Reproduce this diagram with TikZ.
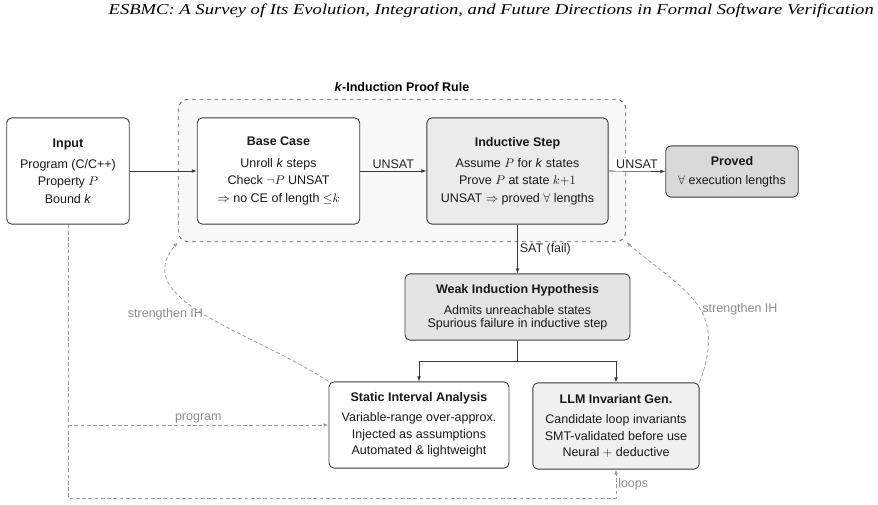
\documentclass[tikz,border=0pt]{standalone}
\usepackage{amsmath,amssymb}
\usepackage{graphicx}
\usepackage[no-math]{fontspec}
\setmainfont{Liberation Sans}
\newfontfamily\headfont{Liberation Serif}
\usepackage{tikz}
\usetikzlibrary{arrows.meta, positioning}

\definecolor{edgegray}{HTML}{3A3A3A}
\definecolor{feedgray}{HTML}{9A9A9A}
\definecolor{labelgray}{HTML}{8C8C8C}
\definecolor{groupfill}{HTML}{F8F8F8}
\definecolor{stepfill}{HTML}{EBEBEB}
\definecolor{weakfill}{HTML}{E4E4E4}
\definecolor{llmfill}{HTML}{F0F0F0}
\definecolor{provedfill}{HTML}{D9D9D9}

\begin{document}
\begin{tikzpicture}[x=0.8pt, y=-0.8pt,
    box/.style={draw=edgegray, line width=0.7pt, rounded corners=4pt, align=center,
        font=\fontsize{10}{12}\selectfont, text=black!90, inner sep=2pt},
    flow/.style={draw=edgegray, line width=0.6pt, -{Latex[length=4pt,width=3pt]}},
    feed/.style={draw=feedgray, line width=0.6pt, dash pattern=on 3pt off 2pt,
        -{Latex[length=4pt,width=3pt]}},
    flowlabel/.style={font=\fontsize{10}{12}\selectfont, text=black!85, inner sep=1.5pt},
    feedlabel/.style={font=\fontsize{10}{12}\selectfont, text=labelgray, inner sep=1.5pt}]
    \useasboundingbox (0,0) rectangle (878,505);

    % Running head of the page
    \node[anchor=base east, inner sep=0pt] (header) at (874,15)
        {\scalebox{1.24}[1]{\headfont\itshape\fontsize{12}{14}\selectfont ESBMC: A Survey of Its Evolution, Integration, and Future Directions in Formal Software Verification}};

    % The k-induction group (drawn first so it stays behind)
    \node[draw=edgegray!80, dashed, fill=groupfill, rounded corners=8pt, line width=0.7pt,
        minimum width=358pt, minimum height=114pt] (proofrule) at (402,170.5) {};
    \node[font=\fontsize{10}{12}\selectfont\bfseries] (prooftitle) at (402,87)
        {\textit{k}-Induction Proof Rule};

    % Main boxes of the proof rule
    \node[box, fill=white, minimum width=98pt, minimum height=85pt] (input) at (68,171)
        {\textbf{Input}\\[5pt] Program (C/C++)\\[2pt] Property $P$\\[2pt] Bound \textit{k}};
    \node[box, fill=white, minimum width=130pt, minimum height=85pt] (base) at (278.5,171)
        {\textbf{Base Case}\\[5pt] Unroll \textit{k} steps\\[2pt] Check $\neg P$ UNSAT\\[2pt] $\Rightarrow$ no CE of length ${\leq}k$};
    \node[box, fill=stepfill, minimum width=145pt, minimum height=85pt] (step) at (517.5,171)
        {\textbf{Inductive Step}\\[5pt] Assume $P$ for \textit{k} states\\[2pt] Prove $P$ at state $k{+}1$\\[2pt] UNSAT $\Rightarrow$ proved $\forall$ lengths};
    \node[box, fill=provedfill, minimum width=106pt, minimum height=41pt] (proved) at (732,171.5)
        {\textbf{Proved}\\[3pt] $\forall$ execution lengths};

    % Failure of the inductive step and the two remedies
    \node[box, fill=weakfill, minimum width=180pt, minimum height=53pt] (weak) at (517.5,307)
        {\textbf{Weak Induction Hypothesis}\\[5pt] Admits unreachable states\\[-2pt] Spurious failure in inductive step};
    \node[box, fill=white, minimum width=144pt, minimum height=69pt] (interval) at (419,425)
        {\textbf{Static Interval Analysis}\\[4pt] Variable-range over-approx.\\[1pt] Injected as assumptions\\[1pt] Automated \& lightweight};
    \node[box, fill=llmfill, minimum width=133pt, minimum height=69pt] (llm) at (616,426)
        {\textbf{LLM Invariant Gen.}\\[4pt] Candidate loop invariants\\[1pt] SMT-validated before use\\[1pt] Neural $+$ deductive};

    % Solid flow
    \draw[flow] (input.east) -- (base.west);
    \draw[flow] (base.east) -- node[above, flowlabel, fill=groupfill] {UNSAT} (step.west);
    \draw[flow] (step.east) -- node[above, flowlabel, fill=white] {UNSAT} (proved.west);
    \draw[flow] (step.south) -- node[right, flowlabel] {SAT (fail)} (weak.north);
    \path (weak.south) ++(0,21) coordinate (branch);
    \draw[flow] (weak.south) -- (branch) -| (interval.north);
    \draw[flow] (branch) -| (llm.north);

    % Dashed feedback
    \coordinate (bottomline) at (0,498);
    \draw[feed] (input.south |- interval.west) -- node[above, feedlabel] {program} (interval.west);
    \draw[feed] (input.south) -- (input.south |- bottomline) -- (llm.south |- bottomline)
        -- node[right, feedlabel] {loops} (llm.south);
    \draw[feed] (interval.north west) to[out=147, in=230, out looseness=1.17, in looseness=0.95]
        node[pos=0.5, left, feedlabel] {strengthen IH} (proofrule.south west);
    \draw[feed] (llm.north east) to[out=70, in=-40, looseness=1.3]
        node[pos=0.45, right, feedlabel] {strengthen IH} (proofrule.south east);
\end{tikzpicture}
\end{document}
